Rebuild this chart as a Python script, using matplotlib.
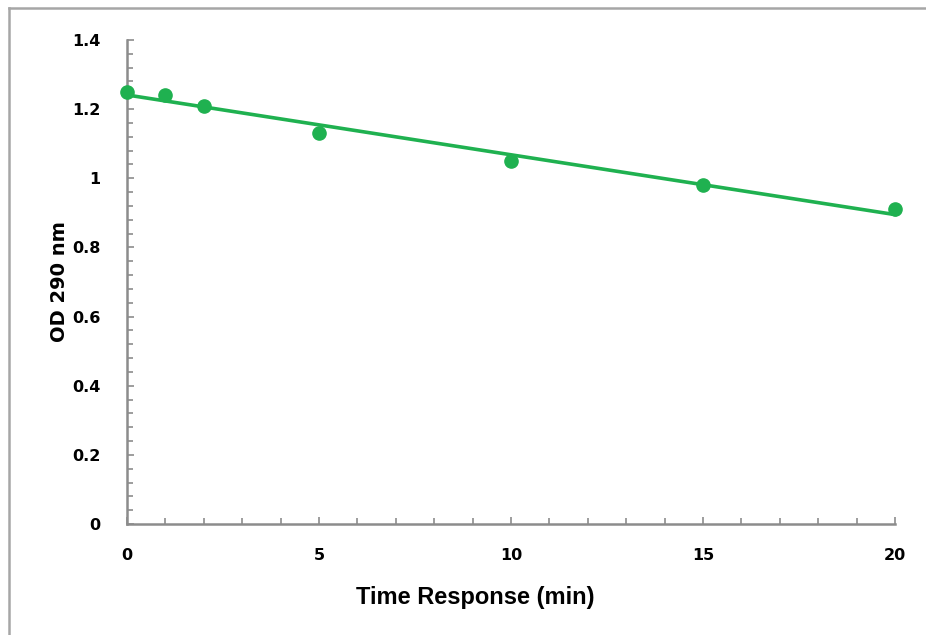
import numpy as np
import matplotlib
matplotlib.use("Agg")
import matplotlib.pyplot as plt
from matplotlib.lines import Line2D
from matplotlib.ticker import MultipleLocator, FixedLocator

time_min = [0, 1, 2, 5, 10, 15, 20]
od290 = [1.25, 1.24, 1.21, 1.13, 1.05, 0.98, 0.91]
x_ticks = [0, 5, 10, 15, 20]
y_ticks = [0, 0.2, 0.4, 0.6, 0.8, 1.0, 1.2, 1.4]
y_tick_labels = ["0", "0.2", "0.4", "0.6", "0.8", "1", "1.2", "1.4"]

W, H = 926, 635
fig = plt.figure(figsize=(W / 100, H / 100), dpi=100)
ax = fig.add_axes([127 / W, 1 - 524 / H, (895 - 127) / W, (524 - 40) / H])

green = "#1fb150"
slope, intercept = np.polyfit(time_min, od290, 1)
xf = np.array([min(time_min), max(time_min)])
ax.plot(xf, slope * xf + intercept, color=green, lw=2.6, clip_on=False, zorder=2)
ax.plot(time_min, od290, "o", color=green, ms=9.5, clip_on=False, zorder=3)

ax.set_xlim(0, 20)
ax.set_ylim(0, 1.4)
ax.xaxis.set_major_locator(FixedLocator(x_ticks))
ax.xaxis.set_minor_locator(MultipleLocator(1))
ax.yaxis.set_major_locator(FixedLocator(y_ticks))
ax.yaxis.set_minor_locator(MultipleLocator(0.04))
ax.set_yticklabels(y_tick_labels)

for s in ["top", "right"]:
    ax.spines[s].set_visible(False)
for s in ["left", "bottom"]:
    ax.spines[s].set_color("#8c8c8c")
    ax.spines[s].set_linewidth(1.8)

ax.tick_params(which="both", direction="in", color="#8c8c8c", width=1.2)
ax.tick_params(which="major", length=5)
ax.tick_params(which="minor", length=4)
ax.tick_params(axis="x", which="major", pad=17)
ax.tick_params(axis="y", which="major", pad=19)
for lab in ax.get_xticklabels() + ax.get_yticklabels():
    lab.set_fontfamily("DejaVu Sans")
    lab.set_fontweight("bold")
    lab.set_fontsize(11.5)

ax.set_xlabel("Time Response (min)", fontfamily="Liberation Sans", fontweight="bold",
              fontsize=17)
ax.xaxis.set_label_coords((475 - 127) / 768, -(586 - 524) / 484)
ax.set_ylabel("OD 290 nm", fontfamily="DejaVu Sans", fontweight="bold",
              fontsize=14, labelpad=2)

fig.add_artist(Line2D([9 / W, 9 / W], [0, 1 - 8 / H], color="#a6a6a6", lw=1.8,
                      transform=fig.transFigure))
fig.add_artist(Line2D([9 / W, 1], [1 - 8 / H, 1 - 8 / H], color="#a6a6a6", lw=1.8,
                      transform=fig.transFigure))

fig.savefig("out.png", dpi=100, facecolor="white")
